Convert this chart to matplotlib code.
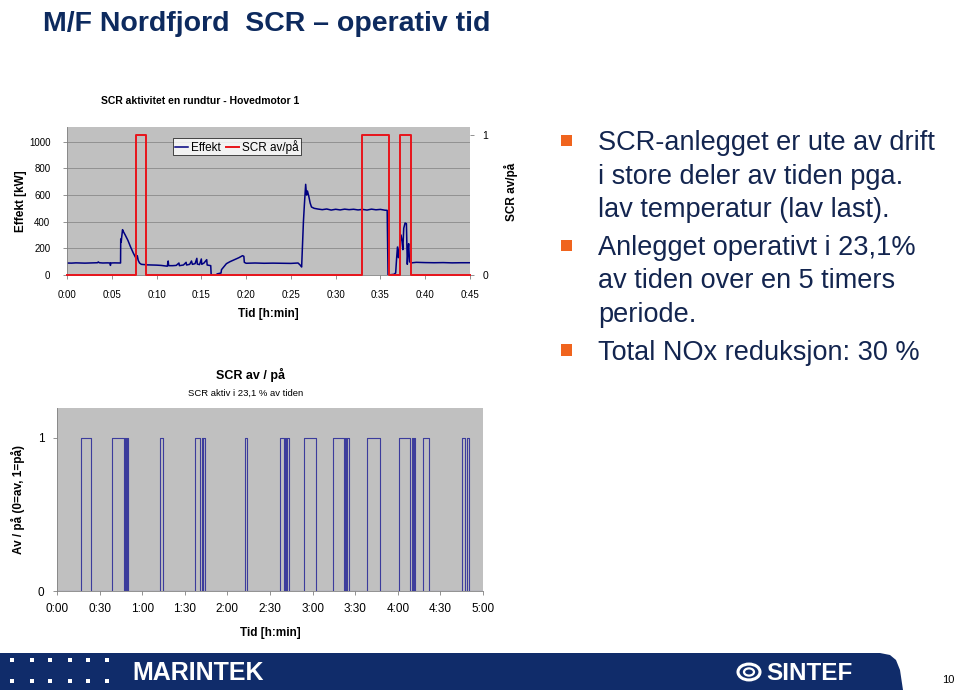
import numpy as np
import matplotlib
matplotlib.use("Agg")
import matplotlib.pyplot as plt
from matplotlib.lines import Line2D
from matplotlib.patches import Rectangle, Polygon, Circle

# --- data: top chart (one round trip, 45 min) ---
effekt_t = [0, 0.5, 1, 1.5, 2, 2.5, 3, 3.4, 3.5, 3.6, 4, 4.5, 4.8, 4.85, 4.9, 5.3, 5.8, 5.98,
            6.0, 6.05, 6.1, 6.2, 6.3, 6.5, 6.8, 7.1, 7.4, 7.6, 7.75, 7.85, 7.95, 8.1, 8.3, 8.6,
            9.0, 9.5, 10.0, 10.5, 11.0, 11.2, 11.3, 11.35, 11.8, 12.2, 12.5, 12.55, 13.0, 13.3,
            13.35, 13.7, 13.9, 14.0, 14.3, 14.5, 14.55, 14.8, 15.0, 15.05, 15.3, 15.6, 15.65,
            15.9, 16.05, 16.1, 16.7, 16.75, 17.2, 17.25, 17.5, 17.8, 18.2, 18.7, 19.2, 19.6,
            19.75, 19.8, 20.0, 21, 22, 23, 24, 25, 25.8, 26.1, 26.2, 26.4, 26.5, 26.65, 26.75,
            26.85, 27.0, 27.15, 27.3, 27.6, 28.0, 28.5, 29.0, 29.5, 30, 30.5, 31, 31.5, 32,
            32.5, 33, 33.5, 34, 34.5, 35, 35.5, 35.75, 35.85, 36.5, 36.7, 36.8, 36.9, 37.0,
            37.15, 37.3, 37.4, 37.5, 37.6, 37.75, 37.9, 38.0, 38.1, 38.15, 38.25, 38.4, 38.6,
            39, 40, 41, 42, 43, 44, 45]
effekt_kw = [90, 89, 91, 90, 89, 90, 91, 92, 98, 92, 90, 91, 90, 72, 90, 91, 90, 90,
             270, 245, 280, 340, 325, 300, 260, 210, 165, 140, 120, 145, 110, 90, 80, 78,
             76, 75, 74, 72, 68, 66, 105, 70, 70, 72, 90, 70, 75, 95,
             75, 80, 105, 80, 85, 125, 82, 78, 120, 80, 90, 115, 75,
             72, 70, 0, 0, 8, 15, 40, 60, 85, 100, 115, 130, 145,
             140, 95, 88, 90, 88, 89, 88, 87, 90, 70, 60, 400, 520, 680, 600,
             630, 590, 540, 510, 500, 495, 490, 495, 487, 493, 488, 494, 490, 493,
             488, 492, 487, 494, 489, 492, 486, 485, 0, 5, 15, 120, 210, 130,
             220, 300, 260, 190, 350, 390, 385, 80, 200, 235, 100, 90, 92,
             95, 93, 92, 93, 91, 92, 92]
scr_top_start = [7.66, 32.94, 37.19]
scr_top_end = [8.85, 35.92, 38.46]
top_xticks = [0, 5, 10, 15, 20, 25, 30, 35, 40, 45]
top_xlabels = ["0:00", "0:05", "0:10", "0:15", "0:20", "0:25", "0:30", "0:35", "0:40", "0:45"]

# --- data: bottom chart (5 hours) ---
scr_on_start = [17.1, 38.7, 48.1, 49.3, 72.3, 97.4, 101.9, 103.1, 132.2, 157.3, 160.8, 162.0,
                174.2, 194.1, 202.6, 204.0, 218.5, 240.8, 249.8, 251.2, 257.5, 285.4, 288.7]
scr_on_end = [23.7, 46.9, 48.6, 50.0, 74.4, 100.9, 102.6, 104.2, 133.8, 160.1, 161.5, 163.4,
              182.2, 201.9, 203.3, 205.6, 227.7, 248.8, 250.5, 252.3, 261.7, 287.1, 290.1]
bot_xticks = [0, 30, 60, 90, 120, 150, 180, 210, 240, 270, 300]
bot_xlabels = ["0:00", "0:30", "1:00", "1:30", "2:00", "2:30", "3:00", "3:30", "4:00", "4:30", "5:00"]

bullets = [["SCR-anlegget er ute av drift", "i store deler av tiden pga.", "lav temperatur (lav last)."],
           ["Anlegget operativt i 23,1%", "av tiden over en 5 timers", "periode."],
           ["Total NOx reduksjon: 30 %"]]


def steps(starts, ends, xmax):
    x, y = [0], [0]
    for s, e in zip(starts, ends):
        x += [s, s, e, e]
        y += [0, 1, 1, 0]
    x.append(xmax)
    y.append(0)
    return x, y


W, H = 960, 693
plt.rcParams["font.family"] = ["Liberation Sans", "DejaVu Sans"]

fig = plt.figure(figsize=(9.6, 6.93), dpi=100)


def fx(px):
    return px / W


def fy(py):
    return 1 - py / H


navy = "#0d2a5e"
grey_bg = "#c0c0c0"
fs = 7
fl = 8.5

# title
fig.text(fx(43), fy(31), "M/F Nordfjord  SCR \u2013 operativ tid", fontsize=20.5,
         fontweight="bold", color=navy, ha="left", va="baseline")
fig.text(fx(200), fy(101), "SCR aktivitet en rundtur - Hovedmotor 1",
         fontsize=7.5, fontweight="bold", ha="center", va="center")

# ---- top chart ----
ax = fig.add_axes([fx(67), fy(275), fx(470) - fx(67), fy(127) - fy(275)])
ax.set_facecolor(grey_bg)
ax.plot(effekt_t, effekt_kw, color="#000080", lw=1.1)
ax.set_xlim(0, 45)
ax.set_ylim(0, 1110)
ax.set_yticks([0, 200, 400, 600, 800, 1000])
ax.grid(axis="y", color="#8a8a8a", lw=0.6)
ax.set_axisbelow(True)
ax.set_xticks(top_xticks)
ax.set_xticklabels(top_xlabels)
for sp in ["top", "right"]:
    ax.spines[sp].set_visible(False)
for sp in ["left", "bottom"]:
    ax.spines[sp].set_color("#808080")
    ax.spines[sp].set_linewidth(0.6)
ax.tick_params(labelsize=fs, length=3, width=0.6, color="#808080")
ax.tick_params(axis="x", pad=8)
ax.tick_params(axis="y", pad=9)
ax.set_xlabel("Tid [h:min]", fontsize=fl, fontweight="bold")
ax.set_ylabel("Effekt [kW]", fontsize=fl, fontweight="bold")
ax.xaxis.set_label_coords(0.5, -0.223)
ax.yaxis.set_label_coords(-0.1, 0.5)

ax2 = ax.twinx()
tx, ty = steps(scr_top_start, scr_top_end, 45)
ax2.plot(tx, ty, color="#e8141b", lw=1.4, clip_on=False)
ax2.set_ylim(0, 1.057)
ax2.set_yticks([0, 1])
for sp in ["top", "left", "bottom", "right"]:
    ax2.spines[sp].set_visible(False)
ax2.tick_params(labelsize=7.5, length=3, width=0.6, color="#808080", pad=6)
ax2.set_ylabel("SCR av/p\u00e5", fontsize=fl, fontweight="bold")
ax2.yaxis.set_label_coords(1.085, 0.56)

handles = [Line2D([], [], color="#000080", lw=1.1), Line2D([], [], color="#e8141b", lw=1.4)]
leg = fig.legend(handles, ["Effekt", "SCR av/p\u00e5"], loc="upper left",
                 bbox_to_anchor=(fx(173), fy(138)), ncol=2, frameon=True, fancybox=False,
                 handlelength=1.1, handletextpad=0.3, columnspacing=0.4, borderpad=0.15,
                 borderaxespad=0, prop={"size": fl})
leg.get_frame().set_edgecolor("black")
leg.get_frame().set_linewidth(0.6)

# ---- bottom chart ----
fig.text(fx(250), fy(375), "SCR av / p\u00e5", fontsize=9, fontweight="bold",
         ha="center", va="center")
fig.text(fx(246), fy(393), "SCR aktiv i 23,1 % av tiden", fontsize=6.8,
         ha="center", va="center")

bx = fig.add_axes([fx(57), fy(591), fx(483) - fx(57), fy(408) - fy(591)])
bx.set_facecolor(grey_bg)
sx, sy = steps(scr_on_start, scr_on_end, 300)
bx.plot(sx, sy, color="#3c3c9c", lw=0.8)
bx.set_xlim(0, 300)
bx.set_ylim(0, 1.196)
bx.set_yticks([0, 1])
bx.set_xticks(bot_xticks)
bx.set_xticklabels(bot_xlabels)
for sp in ["top", "right"]:
    bx.spines[sp].set_visible(False)
for sp in ["left", "bottom"]:
    bx.spines[sp].set_color("#808080")
    bx.spines[sp].set_linewidth(0.6)
bx.tick_params(labelsize=fl, length=3, width=0.6, color="#808080", pad=6)
bx.set_xlabel("Tid [h:min]", fontsize=fl, fontweight="bold")
bx.set_ylabel("Av / p\u00e5 (0=av, 1=p\u00e5)", fontsize=fl, fontweight="bold")
bx.xaxis.set_label_coords(0.5, -0.197)
bx.yaxis.set_label_coords(-0.075, 0.5)

# ---- bullet text ----
text_col = "#13254f"
bullet_y = [140, 245, 350]
for by, lines in zip(bullet_y, bullets):
    fig.add_artist(Rectangle((fx(561), fy(by + 5.5)), fx(11), 11 / H, transform=fig.transFigure,
                             color="#f0641e", lw=0))
    for i, line in enumerate(lines):
        fig.text(fx(598), fy(by + 10 + 33.5 * i), line, fontsize=19.5, color=text_col,
                 ha="left", va="baseline")

# ---- footer ----
band = Polygon([(fx(0), fy(653)), (fx(880), fy(653)), (fx(890), fy(655)), (fx(896), fy(660)),
                (fx(900), fy(670)), (fx(903), fy(690)), (fx(0), fy(690))], closed=True,
               transform=fig.transFigure, color="#102c6a", lw=0)
fig.add_artist(band)
for cx in [12, 32, 50, 70, 88, 107]:
    for cy in [660, 681]:
        fig.add_artist(Rectangle((fx(cx - 2), fy(cy + 2)), 4 / W, 4 / H,
                                 transform=fig.transFigure, color="white", lw=0))
fig.text(fx(132), fy(680), "MARINTEK", fontsize=18, fontweight="bold",
         color="white", ha="left", va="baseline")
fig.add_artist(Circle((fx(749), fy(672)), 11 / W, transform=fig.transFigure, fill=False,
                      edgecolor="white", lw=2.2))
fig.add_artist(Circle((fx(749), fy(672)), 5 / W, transform=fig.transFigure, fill=False,
                      edgecolor="white", lw=1.6))
fig.text(fx(766), fy(680), "SINTEF", fontsize=17.5, fontweight="bold",
         color="white", ha="left", va="baseline")
fig.text(fx(948), fy(680), "10", fontsize=8, ha="center", va="center")

fig.savefig("out.png", dpi=100)
